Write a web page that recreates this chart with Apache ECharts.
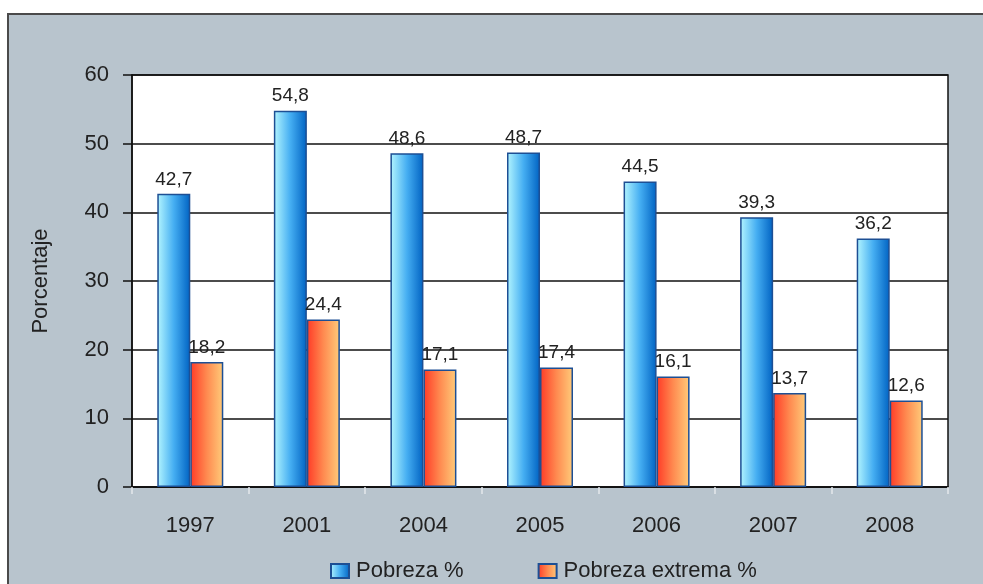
<!DOCTYPE html>
<html>
<head>
<meta charset="utf-8">
<script src="https://cdn.jsdelivr.net/npm/echarts@6/dist/echarts.min.js"></script>
<style>
  html, body { margin: 0; padding: 0; background: #ffffff; }
  #chart { width: 983px; height: 584px; }
</style>
</head>
<body>
<div id="chart"></div>
<script>
// Years on the category axis
const years = ['1997', '2001', '2004', '2005', '2006', '2007', '2008'];
// Share of population in poverty (%)
const pobreza = [42.7, 54.8, 48.6, 48.7, 44.5, 39.3, 36.2];
// Share of population in extreme poverty (%)
const pobrezaExtrema = [18.2, 24.4, 17.1, 17.4, 16.1, 13.7, 12.6];
// Value axis tick values
const yTicks = [0, 10, 20, 30, 40, 50, 60];

const FONT = '"Liberation Sans", Arial, sans-serif';
const fmt = v => v.toFixed(1).replace('.', ',');

const blueFill = new echarts.graphic.LinearGradient(0, 0, 1, 0, [
  { offset: 0, color: '#b4f6ff' },
  { offset: 0.5, color: '#45aef2' },
  { offset: 1, color: '#0062c2' }
]);
const orangeFill = new echarts.graphic.LinearGradient(0, 0, 1, 0, [
  { offset: 0, color: '#ff3a26' },
  { offset: 0.5, color: '#ff8a50' },
  { offset: 1, color: '#ffcc7a' }
]);

const chart = echarts.init(document.getElementById('chart'), null, { renderer: 'canvas' });

const labelStyle = {
  show: true,
  position: 'top',
  distance: 5,
  color: '#222',
  fontSize: 19,
  fontFamily: FONT,
  formatter: p => fmt(p.value)
};

chart.setOption({
  backgroundColor: '#ffffff',
  animation: false,
  graphic: [{
    type: 'rect',
    z: -10,
    shape: { x: 8, y: 14, width: 1000, height: 600 },
    style: { fill: '#b8c4cd', stroke: '#4a4a4a', lineWidth: 2 }
  }],
  grid: {
    left: 132, right: 35, top: 75, bottom: 97,
    show: true,
    backgroundColor: '#ffffff',
    borderColor: '#111',
    borderWidth: 1.5
  },
  legend: {
    data: ['Pobreza %', 'Pobreza extrema %'],
    icon: 'rect',
    left: 325,
    top: 555,
    itemWidth: 18,
    itemHeight: 14,
    itemGap: 74,
    textStyle: { color: '#222', fontSize: 22, fontFamily: FONT, padding: [0, 0, 0, 2] }
  },
  xAxis: {
    type: 'category',
    data: years,
    axisLine: { lineStyle: { color: '#111', width: 1.5 } },
    axisTick: { show: true, length: 7, lineStyle: { color: '#e4e8ec', width: 1.5 } },
    axisLabel: { color: '#222', fontSize: 22, fontFamily: FONT, margin: 28 }
  },
  yAxis: {
    type: 'value',
    min: yTicks[0],
    max: yTicks[yTicks.length - 1],
    interval: 10,
    name: 'Porcentaje',
    nameLocation: 'middle',
    nameGap: 80,
    nameTextStyle: { color: '#222', fontSize: 22, fontFamily: FONT },
    axisLine: { show: true, lineStyle: { color: '#111', width: 1.5 } },
    axisTick: { show: true, length: 9, lineStyle: { color: '#111', width: 1.5 } },
    axisLabel: { color: '#222', fontSize: 22, fontFamily: FONT, margin: 23 },
    splitLine: { show: true, lineStyle: { color: '#111', width: 1.5 } }
  },
  series: [
    {
      name: 'Pobreza %',
      type: 'bar',
      data: pobreza,
      barWidth: 33,
      barGap: '0%',
      itemStyle: { color: blueFill, borderColor: '#1d4f94', borderWidth: 1.5 },
      label: labelStyle
    },
    {
      name: 'Pobreza extrema %',
      type: 'bar',
      data: pobrezaExtrema,
      barWidth: 33,
      barGap: '0%',
      itemStyle: { color: orangeFill, borderColor: '#1d4f94', borderWidth: 1.5 },
      label: labelStyle
    }
  ]
});
</script>
</body>
</html>
